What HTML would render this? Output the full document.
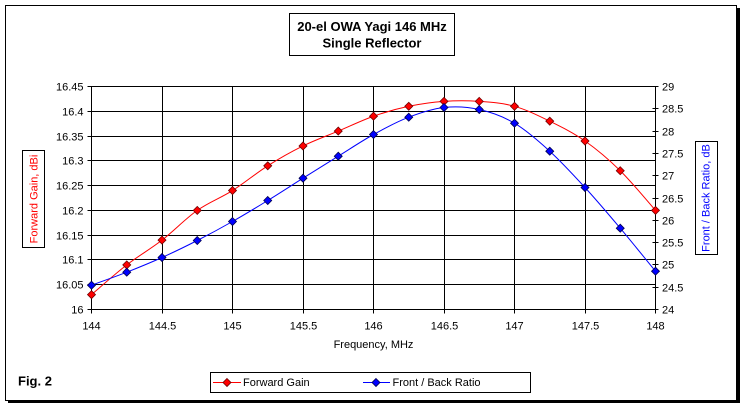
<!DOCTYPE html>
<html><head><meta charset="utf-8"><style>
html,body{margin:0;padding:0;background:#fff;}
body{width:744px;height:407px;overflow:hidden;}
svg{display:block;}
text{font-family:"Liberation Sans",Arial,sans-serif;font-size:11px;fill:#000;}
.b{font-weight:bold;font-size:13px;}
</style></head><body>
<svg width="744" height="407" viewBox="0 0 744 407" xmlns="http://www.w3.org/2000/svg">
<rect x="0" y="0" width="744" height="407" fill="#fff"/>
<!-- frame + shadow -->
<rect x="5.5" y="5.5" width="731" height="395" fill="none" stroke="#000" stroke-width="1"/>
<rect x="737" y="8" width="3" height="395" fill="#000"/>
<rect x="8" y="401" width="732" height="2" fill="#000"/>

<!-- title -->
<rect x="289.5" y="13.5" width="165" height="42" fill="#fff" stroke="#000" stroke-width="1"/>
<text class="b" x="372" y="31" text-anchor="middle">20-el OWA Yagi 146 MHz</text>
<text class="b" x="372" y="47.5" text-anchor="middle">Single Reflector</text>

<!-- grid -->
<g stroke="#000" stroke-width="1" shape-rendering="crispEdges" transform="translate(0.5,0.5)">
<line x1="91" y1="86" x2="655" y2="86"/>
<line x1="91" y1="111" x2="655" y2="111"/>
<line x1="91" y1="136" x2="655" y2="136"/>
<line x1="91" y1="160" x2="655" y2="160"/>
<line x1="91" y1="185" x2="655" y2="185"/>
<line x1="91" y1="210" x2="655" y2="210"/>
<line x1="91" y1="235" x2="655" y2="235"/>
<line x1="91" y1="259" x2="655" y2="259"/>
<line x1="91" y1="284" x2="655" y2="284"/>
<line x1="87" y1="309" x2="655" y2="309"/>
<line x1="91" y1="86" x2="91" y2="313"/>
<line x1="162" y1="86" x2="162" y2="313"/>
<line x1="232" y1="86" x2="232" y2="313"/>
<line x1="303" y1="86" x2="303" y2="313"/>
<line x1="373" y1="86" x2="373" y2="313"/>
<line x1="444" y1="86" x2="444" y2="313"/>
<line x1="514" y1="86" x2="514" y2="313"/>
<line x1="585" y1="86" x2="585" y2="313"/>
<line x1="655" y1="86" x2="655" y2="313"/>
<!-- left ticks -->
<line x1="87" y1="86" x2="91" y2="86"/>
<line x1="87" y1="111" x2="91" y2="111"/>
<line x1="87" y1="136" x2="91" y2="136"/>
<line x1="87" y1="160" x2="91" y2="160"/>
<line x1="87" y1="185" x2="91" y2="185"/>
<line x1="87" y1="210" x2="91" y2="210"/>
<line x1="87" y1="235" x2="91" y2="235"/>
<line x1="87" y1="259" x2="91" y2="259"/>
<line x1="87" y1="284" x2="91" y2="284"/>
<!-- right ticks -->
<line x1="652" y1="86" x2="658" y2="86"/>
<line x1="652" y1="108" x2="658" y2="108"/>
<line x1="652" y1="131" x2="658" y2="131"/>
<line x1="652" y1="153" x2="658" y2="153"/>
<line x1="652" y1="175" x2="658" y2="175"/>
<line x1="652" y1="198" x2="658" y2="198"/>
<line x1="652" y1="220" x2="658" y2="220"/>
<line x1="652" y1="242" x2="658" y2="242"/>
<line x1="652" y1="264" x2="658" y2="264"/>
<line x1="652" y1="287" x2="658" y2="287"/>
<line x1="652" y1="309" x2="658" y2="309"/>
</g>

<!-- left labels -->
<g text-anchor="end">
<text x="83.5" y="90.5">16.45</text>
<text x="83.5" y="115.5">16.4</text>
<text x="83.5" y="140.5">16.35</text>
<text x="83.5" y="164.5">16.3</text>
<text x="83.5" y="189.5">16.25</text>
<text x="83.5" y="214.5">16.2</text>
<text x="83.5" y="239.5">16.15</text>
<text x="83.5" y="263.5">16.1</text>
<text x="83.5" y="288.5">16.05</text>
<text x="83.5" y="313.5">16</text>
</g>
<!-- right labels -->
<g>
<text x="662" y="90.5">29</text>
<text x="662" y="112.5">28.5</text>
<text x="662" y="135.5">28</text>
<text x="662" y="157.5">27.5</text>
<text x="662" y="179.5">27</text>
<text x="662" y="202.5">26.5</text>
<text x="662" y="224.5">26</text>
<text x="662" y="246.5">25.5</text>
<text x="662" y="268.5">25</text>
<text x="662" y="291.5">24.5</text>
<text x="662" y="313.5">24</text>
</g>
<!-- bottom labels -->
<g text-anchor="middle">
<text x="91.5" y="329.5">144</text>
<text x="162.5" y="329.5">144.5</text>
<text x="232.5" y="329.5">145</text>
<text x="303.5" y="329.5">145.5</text>
<text x="373.5" y="329.5">146</text>
<text x="444.5" y="329.5">146.5</text>
<text x="514.5" y="329.5">147</text>
<text x="585.5" y="329.5">147.5</text>
<text x="655.5" y="329.5">148</text>
</g>
<text x="373.5" y="348" text-anchor="middle">Frequency, MHz</text>

<!-- axis titles -->
<rect x="22.5" y="150.5" width="22" height="97" fill="#fff" stroke="#000" stroke-width="1"/>
<text x="37.5" y="199" text-anchor="middle" fill="#ff0000" style="fill:#ff0000" transform="rotate(-90 37.5 199)">Forward Gain, dBi</text>
<rect x="695.5" y="141.5" width="22" height="113" fill="#fff" stroke="#000" stroke-width="1"/>
<text x="709.5" y="198" text-anchor="middle" style="fill:#0000ff" transform="rotate(-90 709.5 198)">Front / Back Ratio, dB</text>

<!-- series -->
<g transform="translate(0.5,0.5)">
<path fill="none" stroke="#ff0000" stroke-width="1" d="M91,294.13 C96.88,289.18 114.5,273.49 126.25,264.4 C138,255.32 149.75,248.71 161.5,239.62 C173.25,230.53 185,218.14 196.75,209.88 C208.5,201.62 220.25,197.49 232,190.06 C243.75,182.63 255.5,172.72 267.25,165.28 C279,157.85 290.75,151.23 302.5,145.45 C314.25,139.67 326,135.54 337.75,130.58 C349.5,125.63 361.25,119.85 373,115.72 C384.75,111.59 396.5,108.28 408.25,105.8 C420,103.32 431.75,101.68 443.5,100.85 C455.25,100.03 467,100.03 478.75,100.85 C490.5,101.68 502.25,102.5 514,105.8 C525.75,109.1 537.5,114.89 549.25,120.67 C561,126.45 572.75,132.24 584.5,140.5 C596.25,148.76 608,158.67 619.75,170.23 C631.5,181.79 649.13,203.27 655,209.88"/>
<g fill="#ff0000" stroke="#700000" stroke-width="0.8">
<polygon points="91,290.13 95,294.13 91,298.13 87,294.13"/>
<polygon points="126.25,260.4 130.25,264.4 126.25,268.4 122.25,264.4"/>
<polygon points="161.5,235.62 165.5,239.62 161.5,243.62 157.5,239.62"/>
<polygon points="196.75,205.88 200.75,209.88 196.75,213.88 192.75,209.88"/>
<polygon points="232,186.06 236,190.06 232,194.06 228,190.06"/>
<polygon points="267.25,161.28 271.25,165.28 267.25,169.28 263.25,165.28"/>
<polygon points="302.5,141.45 306.5,145.45 302.5,149.45 298.5,145.45"/>
<polygon points="337.75,126.58 341.75,130.58 337.75,134.58 333.75,130.58"/>
<polygon points="373,111.72 377,115.72 373,119.72 369,115.72"/>
<polygon points="408.25,101.8 412.25,105.8 408.25,109.8 404.25,105.8"/>
<polygon points="443.5,96.85 447.5,100.85 443.5,104.85 439.5,100.85"/>
<polygon points="478.75,96.85 482.75,100.85 478.75,104.85 474.75,100.85"/>
<polygon points="514,101.8 518,105.8 514,109.8 510,105.8"/>
<polygon points="549.25,116.67 553.25,120.67 549.25,124.67 545.25,120.67"/>
<polygon points="584.5,136.5 588.5,140.5 584.5,144.5 580.5,140.5"/>
<polygon points="619.75,166.23 623.75,170.23 619.75,174.23 615.75,170.23"/>
<polygon points="655,205.88 659,209.88 655,213.88 651,209.88"/>
</g>
<path fill="none" stroke="#0000ff" stroke-width="1" d="M91,284.7 C96.88,282.53 114.5,276.32 126.25,271.7 C138,267.08 149.75,262.28 161.5,257 C173.25,251.72 185,246 196.75,240 C208.5,234 220.25,227.67 232,221 C243.75,214.33 255.5,207.22 267.25,200 C279,192.78 290.75,185.08 302.5,177.7 C314.25,170.32 326,162.98 337.75,155.7 C349.5,148.42 361.25,140.5 373,134 C384.75,127.5 396.5,121.2 408.25,116.7 C420,112.2 431.75,108.28 443.5,107 C455.25,105.72 467,106.38 478.75,109 C490.5,111.62 502.25,115.75 514,122.7 C525.75,129.65 537.5,139.98 549.25,150.7 C561,161.42 572.75,174.17 584.5,187 C596.25,199.83 608,213.75 619.75,227.7 C631.5,241.65 649.13,263.53 655,270.7"/>
<g fill="#0000ff" stroke="#000050" stroke-width="0.8">
<polygon points="91,280.7 95,284.7 91,288.7 87,284.7"/>
<polygon points="126.25,267.7 130.25,271.7 126.25,275.7 122.25,271.7"/>
<polygon points="161.5,253 165.5,257 161.5,261 157.5,257"/>
<polygon points="196.75,236 200.75,240 196.75,244 192.75,240"/>
<polygon points="232,217 236,221 232,225 228,221"/>
<polygon points="267.25,196 271.25,200 267.25,204 263.25,200"/>
<polygon points="302.5,173.7 306.5,177.7 302.5,181.7 298.5,177.7"/>
<polygon points="337.75,151.7 341.75,155.7 337.75,159.7 333.75,155.7"/>
<polygon points="373,130 377,134 373,138 369,134"/>
<polygon points="408.25,112.7 412.25,116.7 408.25,120.7 404.25,116.7"/>
<polygon points="443.5,103 447.5,107 443.5,111 439.5,107"/>
<polygon points="478.75,105 482.75,109 478.75,113 474.75,109"/>
<polygon points="514,118.7 518,122.7 514,126.7 510,122.7"/>
<polygon points="549.25,146.7 553.25,150.7 549.25,154.7 545.25,150.7"/>
<polygon points="584.5,183 588.5,187 584.5,191 580.5,187"/>
<polygon points="619.75,223.7 623.75,227.7 619.75,231.7 615.75,227.7"/>
<polygon points="655,266.7 659,270.7 655,274.7 651,270.7"/>
</g>
</g>

<!-- Fig label -->
<text class="b" x="18" y="385.5">Fig. 2</text>

<!-- legend -->
<rect x="210.5" y="372.5" width="320" height="20" fill="#fff" stroke="#000" stroke-width="1"/>
<line x1="213" y1="382.5" x2="241" y2="382.5" stroke="#ff0000" stroke-width="1"/>
<polygon points="227,378.5 231,382.5 227,386.5 223,382.5" fill="#ff0000" stroke="#700000" stroke-width="0.8"/>
<text x="243" y="386">Forward Gain</text>
<line x1="363" y1="382.5" x2="390" y2="382.5" stroke="#0000ff" stroke-width="1"/>
<polygon points="376,378.5 380,382.5 376,386.5 372,382.5" fill="#0000ff" stroke="#000050" stroke-width="0.8"/>
<text x="392.5" y="386">Front / Back Ratio</text>
</svg>
</body></html>
